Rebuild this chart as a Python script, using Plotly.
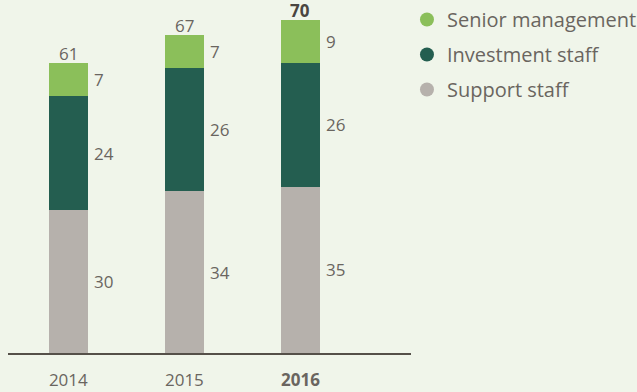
import plotly.graph_objects as go

years = ["2014", "2015", "2016"]
senior = [7, 7, 9]
investment = [24, 26, 26]
support = [30, 34, 35]
totals = [61, 67, 70]

C_SENIOR = "#8bbf5a"
C_INVEST = "#245e50"
C_SUPPORT = "#b6b1ac"
BG = "#f0f5ea"
TXT = "#6a655f"
FONT = "Open Sans"

x = list(range(len(years)))
W = 0.336

fig = go.Figure()
series = [("Support staff", support, C_SUPPORT),
          ("Investment staff", investment, C_INVEST),
          ("Senior management", senior, C_SENIOR)]
for name, vals, col in series:
    fig.add_trace(go.Bar(x=x, y=vals, name=name, marker_color=col, width=W,
                         marker_line_width=0, showlegend=False, hoverinfo="skip"))

# legend entries with round markers
for name, vals, col in reversed(series):
    fig.add_trace(go.Scatter(x=[None], y=[None], mode="markers", name=name,
                             legendgroup=name,
                             marker=dict(symbol="circle", size=14, color=col)))

annotations = []
for i in x:
    base = 0
    for name, vals, col in series:
        v = vals[i]
        annotations.append(dict(x=i + W / 2, y=base + v / 2, xref="x", yref="y",
                                text=str(v), showarrow=False, xanchor="left",
                                yanchor="middle", xshift=4,
                                font=dict(family=FONT, size=17, color=TXT)))
        base += v
    bold = i == len(x) - 1
    annotations.append(dict(x=i, y=totals[i], xref="x", yref="y",
                            text=f"<b>{totals[i]}</b>" if bold else str(totals[i]),
                            showarrow=False, xanchor="center", yanchor="bottom",
                            yshift=-4,
                            font=dict(family=FONT, size=17,
                                      color="#4a4540" if bold else TXT)))

ticktext = [f"<b>{y}</b>" if k == len(years) - 1 else y for k, y in enumerate(years)]

fig.update_layout(
    width=637, height=392,
    margin=dict(l=8, r=226, t=0, b=39, autoexpand=False),
    paper_bgcolor=BG, plot_bgcolor=BG,
    barmode="stack",
    annotations=annotations,
    font=dict(family=FONT, size=17, color=TXT),
    legend=dict(x=0.99, y=1.0, xanchor="left", yanchor="top",
                traceorder="grouped", tracegroupgap=6,
                bgcolor="rgba(0,0,0,0)", font=dict(family=FONT, size=20, color=TXT),
                itemclick=False),
    xaxis=dict(range=[-0.52, 2.953], tickvals=x, ticktext=ticktext,
               showgrid=False, zeroline=False, showline=True, linecolor="#555049",
               linewidth=1.5, ticks="outside", ticklen=11, tickcolor="rgba(0,0,0,0)",
               tickfont=dict(family=FONT, size=17, color=TXT), fixedrange=True),
    yaxis=dict(range=[0, 74.3], visible=False, fixedrange=True),
)

fig.write_html("out.html")
